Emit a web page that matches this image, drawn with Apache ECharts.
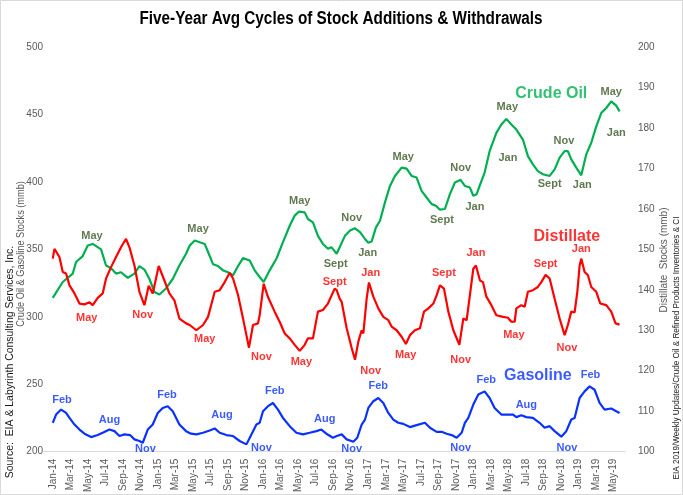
<!DOCTYPE html>
<html>
<head>
<meta charset="utf-8">
<script src="https://cdn.jsdelivr.net/npm/echarts@6/dist/echarts.min.js"></script>
<style>html,body{margin:0;padding:0;background:#fff}#chart{width:683px;height:495px}</style>
</head>
<body>
<div id="chart"></div>
<script>
// x = months since Jan 2014
var monthNames = ['Jan','Feb','Mar','Apr','May','Jun','Jul','Aug','Sep','Oct','Nov','Dec'];
var startYear = 2014;

var crudeMonths = [0,1.14,2.28,2.66,3.42,3.99,4.56,5.51,6.08,6.65,7.22,7.79,8.56,9.32,9.89,10.46,11.03,11.6,12.17,12.92,13.69,14.45,15.21,15.63,16.2,17.34,17.72,18.29,18.86,19.43,20,20.57,21.14,21.71,22.47,23.04,23.61,24.07,24.75,25.52,26.27,27.04,27.61,28.1,28.75,29.12,29.69,30.26,30.83,31.4,31.79,32.4,33.34,33.92,34.49,35.06,35.63,36.01,36.39,36.88,37.34,37.91,38.48,39.05,39.81,40.38,40.95,41.52,42.09,42.66,43.24,43.73,44.18,44.75,45.32,45.89,46.54,47.03,47.6,47.99,48.37,48.71,49.28,49.85,50.62,51.19,51.76,52.33,52.9,53.65,54.22,54.79,55.36,55.93,56.7,57.27,57.84,58.41,58.78,59.17,59.74,60.31,60.88,61.45,62.02,62.59,63.16,63.73,64.3,64.68];
var crudeValues = [314,325.8,332,340.6,345,352.8,354,350,338,336,332,333,328.8,332,337.6,335,328,318.4,316.5,321,328,338,346.7,352.8,356.5,354,348,339,337.6,334.4,333,330.7,337.6,343.5,341.7,334.4,329.5,325.8,334.4,343,355.3,367.5,375,378,377.4,372.5,370,360,354,350.4,351.6,346.7,360,363.9,365.6,362.7,357.7,354.8,355.8,366.3,371.2,384.8,397,404.4,410.6,409.8,404.4,403.2,393.3,388.4,383.5,382.3,379.4,379.9,390.9,399.5,401.5,397,395.8,389.7,390.9,397,406.9,422.8,436.3,442.5,446.7,442.5,438.8,431.4,419.1,413,408,405.7,404.4,409.3,418,422.8,422.8,416.7,410.6,404.9,420.4,429,441.2,451,454.8,459.7,456.5,452.3];

var distMonths = [0,0.19,0.76,1.14,1.52,1.91,2.48,3.05,3.62,4.19,4.56,5.13,5.7,6.08,6.65,7.22,7.79,8.36,8.75,9.32,9.89,10.46,10.95,11.41,12.09,12.74,13.31,13.88,14.45,15.21,15.63,16.39,17.15,17.72,18.48,19.05,19.62,20.19,20.57,21.14,21.71,22.1,22.39,22.85,23.42,23.61,24.07,24.56,25.32,25.89,26.47,27.04,27.61,28.18,28.75,29.12,29.69,30.26,30.83,31.4,32.17,32.4,32.74,32.97,33.54,34.11,34.49,34.87,35.25,35.44,35.82,36.08,36.58,37.15,37.72,38.29,38.67,39.24,39.81,40.3,40.76,41.33,41.9,42.36,42.86,43.43,43.81,44.18,44.64,45.14,45.71,46.4,46.85,47.23,47.6,47.99,48.29,48.75,49.09,49.48,50.05,50.62,51.38,51.94,52.33,52.71,52.9,53.47,53.85,54.22,54.79,55.36,55.75,56.24,56.7,57.27,57.84,58.41,58.78,59.17,59.55,59.86,60.12,60.31,60.69,61.07,61.45,62.02,62.48,63.16,63.73,64.22,64.68];
var distValues = [147.7,150.1,148.1,144.4,144,141.1,139.1,136.6,136.4,136.9,136.2,138,139.1,142.8,145.6,148.1,150.5,152.6,150.5,146,139.5,136.2,141,139.1,145.9,142.3,139.1,137.4,132.9,131.7,131.3,130,131.3,133.3,139.5,139.9,141.9,144.2,142.8,138.7,132.9,128.8,125.7,131.3,131.7,133.7,141.5,138.2,134.6,132.1,129.2,128,126.4,124.9,126.4,128,128,134.6,135,136.6,140.3,139.9,137.8,137,130.5,125.6,122.7,127.2,130,129.2,137.8,141.8,138.3,135.4,133.3,132.5,130.9,130,128.4,126.6,128.8,130,130.5,134.6,135.4,136.6,138.7,141.1,140.3,134.6,130,126.4,132.9,132.5,138.7,145.2,146,142.3,141.9,138.3,136.2,133.7,133.3,133.1,132.1,132.1,135.4,136.2,135.8,139.5,139.9,140.7,141.9,143.7,142.8,137.8,132.9,128.8,131.3,134.6,134.4,139.5,146,147.7,144.4,143.6,140.7,139.5,136.6,136.2,134.6,131.7,131.4];

var gasMonths = [0,0.38,0.95,1.52,1.91,2.48,3.05,3.62,4.37,5.13,5.7,6.47,7.04,7.61,8.18,8.82,9.32,9.89,10.27,10.84,11.41,11.98,12.55,13.12,13.69,14.45,15.21,15.78,16.39,17.15,17.91,18.48,19.05,19.81,20.57,21.33,22.1,22.67,23.24,23.61,23.99,24.56,25.13,25.7,26.27,27.04,27.8,28.55,29.32,30.08,30.65,31.22,31.98,32.4,32.97,33.54,34.3,34.75,35.25,35.63,36.01,36.58,37.15,37.72,38.29,38.86,39.43,40,40.76,41.52,42.47,43.04,43.81,44.38,44.95,45.52,46.09,46.66,47.03,47.42,47.99,48.56,49.28,49.85,50.42,51.19,51.76,52.52,52.9,53.47,54.04,54.79,55.55,56.13,56.7,57.27,58.03,58.6,59.17,59.55,60.12,60.69,61.26,61.83,62.4,62.97,63.73,64.3,64.68];
var gasValues = [221.4,227.5,231.2,228.7,225,220.1,216.4,213.3,210.8,212.3,214,216.4,215.2,211.6,212.8,212.3,209.1,207.9,206.6,216.4,220.1,228.7,232.4,233.7,230,220.1,215.2,213.3,212.8,214,215.7,217.2,214,212.3,211.6,207.9,205.4,212.8,220.1,221.4,230,233.7,236.1,231.2,225,218.9,214,212.8,214,215.2,216.4,213.3,210.3,211.6,212.8,209.1,207.4,210.3,220.1,223.8,232.4,237.4,239.8,236.1,228.7,223.8,221.4,220.6,218.2,219.7,221.4,217.7,214.7,214.7,213.3,212.3,210.3,214,221.4,225,234.9,242.3,244.7,239.8,232.4,227.5,227.5,227.5,225.6,227,225.6,225,221.4,217.7,218.9,215.2,211.1,215.2,223.8,225,239.8,244.7,248.4,245.9,236.1,231.2,232,230,228.7];

// annotations [month, value, text]
var crudeNotes = [[4.48,360.2,'May'],[16.58,365.1,'May'],[28.18,386,'May'],[32.28,339.3,'Sept'],[34.11,373,'Nov'],[35.93,347.4,'Jan'],[40.0,418.4,'May'],[44.41,372,'Sept'],[46.54,410.6,'Nov'],[48.18,381.1,'Jan'],[51.87,455.6,'May'],[51.94,417.4,'Jan'],[56.7,398.8,'Sept'],[58.33,430.2,'Nov'],[60.43,398,'Jan'],[63.73,467,'May'],[64.3,436.4,'Jan']];
var distNotes = [[3.88,133.1,'May'],[10.27,133.9,'Nov'],[17.34,127.8,'May'],[23.81,123.3,'Nov'],[28.37,122.1,'May'],[32.17,141.9,'Sept'],[36.28,120,'Nov'],[36.28,144.2,'Jan'],[40.27,123.9,'May'],[44.64,144.2,'Sept'],[46.54,122.7,'Nov'],[48.29,149.1,'Jan'],[52.62,128.8,'May'],[56.24,146.4,'Sept'],[58.67,125.6,'Nov'],[60.31,150.1,'Jan']];
var gasNotes = [[1.06,238.1,'Feb'],[6.47,223.8,'Aug'],[10.57,201.7,'Nov'],[13.04,241.8,'Feb'],[19.31,227,'Aug'],[23.81,202.4,'Nov'],[25.33,244.7,'Feb'],[31.03,224.6,'Aug'],[34.11,201.7,'Nov'],[37.15,248.4,'Feb'],[46.54,202.9,'Nov'],[49.47,253.3,'Feb'],[54.04,234.9,'Aug'],[58.67,202.9,'Nov'],[61.37,257,'Feb']];
var seriesTitles = [[56.89,465.4,'Crude Oil'],[55.36,256.5,'Gasoline']];
var distTitle = [[58.67,153.2,'Distillate']];

var FONT = "'Liberation Sans',sans-serif";
var C_CRUDE = '#00b050', C_CRUDE_TXT = '#375623', C_DIST = '#ff0000', C_GAS = '#0a32ff';

function zip(xs, ys){ return xs.map(function(x,i){ return [x, ys[i]]; }); }
function noteSeries(data, color, yIdx, size){
  return {
    type:'scatter', yAxisIndex:yIdx, data:data, symbolSize:0, silent:true, clip:false, z:10,
    itemStyle:{color:'rgba(0,0,0,0)'},
    label:{show:true, position:'inside', formatter:function(p){return p.data[2];},
      color:color, fontFamily:FONT, fontWeight:'bold', fontSize:size, align:'center', verticalAlign:'middle'}
  };
}

var chart = echarts.init(document.getElementById('chart'), null, {renderer:'canvas'});
chart.setOption({
  animation:false,
  backgroundColor:'#fff',
  grid:{left:44, right:58, top:47, bottom:41},
  xAxis:{type:'value', min:-1, max:65.3, interval:1,
    axisLine:{lineStyle:{color:'#d9d9d9', width:1}}, axisTick:{show:false}, splitLine:{show:false},
    axisLabel:{rotate:90, margin:7, color:'#595959', fontFamily:FONT, fontSize:10,
      formatter:function(v){
        if (Math.abs(v-Math.round(v))>1e-6) return '';
        v = Math.round(v);
        if (v<0 || v>64 || v%2!==0) return '';
        var y = startYear + Math.floor(v/12);
        return monthNames[v%12] + '-' + String(y).slice(2);
      }}
  },
  yAxis:[
    {type:'value', min:200, max:500, interval:50, axisLine:{show:false}, axisTick:{show:false}, splitLine:{show:false},
      axisLabel:{color:'#595959', fontFamily:FONT, fontSize:10, margin:1}},
    {type:'value', min:100, max:200, interval:10, axisLine:{show:false}, axisTick:{show:false}, splitLine:{show:false},
      axisLabel:{color:'#595959', fontFamily:FONT, fontSize:10, margin:13}}
  ],
  series:[
    {type:'line', name:'Crude Oil', data:zip(crudeMonths, crudeValues), showSymbol:false, symbol:'none',
      lineStyle:{color:C_CRUDE, width:2.2}, z:3},
    {type:'line', name:'Distillate', yAxisIndex:1, data:zip(distMonths, distValues), showSymbol:false, symbol:'none',
      lineStyle:{color:C_DIST, width:2.2}, z:4},
    {type:'line', name:'Gasoline', data:zip(gasMonths, gasValues), showSymbol:false, symbol:'none',
      lineStyle:{color:C_GAS, width:2.2}, z:3},
    noteSeries(crudeNotes, C_CRUDE_TXT, 0, 11),
    noteSeries(distNotes, C_DIST, 1, 11),
    noteSeries(gasNotes, C_GAS, 0, 11),
    noteSeries([seriesTitles[0]], C_CRUDE, 0, 16),
    noteSeries([seriesTitles[1]], C_GAS, 0, 16),
    noteSeries(distTitle, C_DIST, 1, 16)
  ],
  graphic:[
    {type:'rect', shape:{x:0.5, y:0.5, width:682, height:494}, style:{fill:'none', stroke:'#d9d9d9', lineWidth:1}, silent:true},
    {type:'text', x:341, y:19, scaleX:0.85,
      style:{text:'Five-Year Avg Cycles of Stock Additions & Withdrawals', fill:'#000', font:'bold 18px '+FONT, textAlign:'center', textVerticalAlign:'middle'}},
    {type:'text', x:10, y:362, rotation:Math.PI/2, scaleX:0.95,
      style:{text:'Source:  EIA & Labyrinth Consulting Services, Inc.', fill:'#1a1a1a', font:'11px '+FONT, textAlign:'center', textVerticalAlign:'middle'}},
    {type:'text', x:21, y:254, rotation:Math.PI/2, scaleX:0.92,
      style:{text:'Crude Oil & Gasoline Stocks (mmb)', fill:'#595959', font:'10px '+FONT, textAlign:'center', textVerticalAlign:'middle'}},
    {type:'text', x:664, y:260, rotation:Math.PI/2,
      style:{text:'Distillate  Stocks (mmb)', fill:'#595959', font:'10px '+FONT, textAlign:'center', textVerticalAlign:'middle'}},
    {type:'text', x:677, y:348, rotation:Math.PI/2, scaleX:0.9,
      style:{text:'EIA 2019/Weekly Updates/Crude Oil & Refined Products Inventories & CI', fill:'#1a1a1a', font:'9px '+FONT, textAlign:'center', textVerticalAlign:'middle'}}
  ]
});
</script>
</body>
</html>
